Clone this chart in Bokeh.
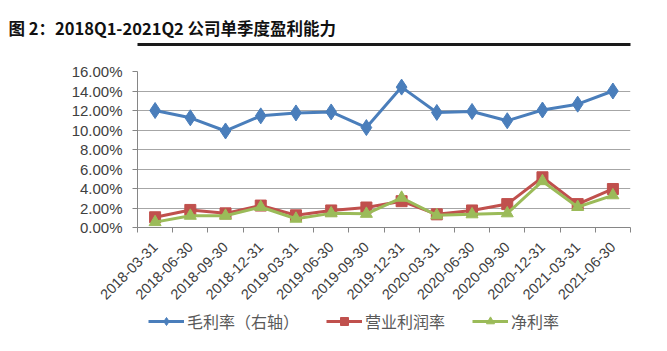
import math
import numpy as np
from bokeh.plotting import figure
from bokeh.layouts import column
from bokeh.models import (Range1d, FixedTicker, CustomJSTickFormatter, NumeralTickFormatter,
                          Legend, LegendItem, Title, LinearAxis)
from bokeh.embed import file_html
from bokeh.resources import INLINE

# ---- data ----
title_text = "图 2：2018Q1-2021Q2 公司单季度盈利能力"
dates = ["2018-03-31", "2018-06-30", "2018-09-30", "2018-12-31",
         "2019-03-31", "2019-06-30", "2019-09-30", "2019-12-31",
         "2020-03-31", "2020-06-30", "2020-09-30", "2020-12-31",
         "2021-03-31", "2021-06-30"]
gross_margin = [12.0, 11.25, 9.9, 11.45, 11.75, 11.85, 10.25, 14.4,
                11.8, 11.9, 10.95, 12.05, 12.65, 14.0]
operating_margin = [1.05, 1.8, 1.45, 2.25, 1.25, 1.75, 2.05, 2.7,
                    1.35, 1.75, 2.4, 5.15, 2.4, 3.95]
net_margin = [0.55, 1.2, 1.2, 2.1, 0.9, 1.45, 1.4, 3.05,
              1.25, 1.35, 1.45, 4.75, 2.1, 3.3]
series_names = ["毛利率（右轴）", "营业利润率", "净利率"]
y_ticks = [0.0, 0.02, 0.04, 0.06, 0.08, 0.10, 0.12, 0.14, 0.16]

BLUE = "#4a7ebb"
RED = "#c0504d"
GREEN = "#9bbb59"
CJK = "Noto Sans CJK SC"
LAT = "Liberation Sans"
W = 667
BL, BR = 137, 37


def strip(height):
    f = figure(width=W, height=height, x_range=Range1d(0, 1), y_range=Range1d(0, 1),
               x_axis_type=None, y_axis_type=None,
               toolbar_location=None, output_backend="svg", min_border=0,
               min_border_left=BL, min_border_right=BR,
               outline_line_color=None)
    f.grid.visible = False
    return f


# ---- title strip with rule ----
top = strip(47)
top.min_border_top = 41
top.min_border_bottom = 3
top.title = Title(text=title_text, align="left", offset=-129, standoff=4,
                  text_font=CJK, text_font_style="bold", text_font_size="16.5px",
                  text_color="#111111")
rule_axis = LinearAxis(ticker=FixedTicker(ticks=[]), axis_line_color="#1a1a1a",
                       axis_line_width=3, major_tick_line_color=None,
                       minor_tick_line_color=None, major_tick_out=0, major_tick_in=0,
                       major_label_standoff=0)
top.add_layout(rule_axis, "below")

# ---- main chart ----
n = len(dates)
xs = np.arange(n) + 0.5
p = figure(width=W, height=263, x_range=Range1d(0, n), y_range=Range1d(0, 0.16),
           toolbar_location=None, output_backend="svg",
           min_border_left=BL, min_border_right=BR, min_border_top=24, min_border_bottom=83,
           outline_line_color=None)
p.xgrid.visible = False
p.ygrid.grid_line_color = "#a6a6a6"
p.ygrid.grid_line_width = 1

p.xaxis.ticker = FixedTicker(ticks=list(xs), minor_ticks=list(np.arange(n + 1)))
p.xaxis.formatter = CustomJSTickFormatter(args=dict(labels=dates),
                                          code="return labels[Math.floor(tick)];")
p.xaxis.major_tick_line_color = None
p.xaxis.major_tick_out = 0
p.xaxis.major_tick_in = 0
p.xaxis.minor_tick_out = 5
p.xaxis.minor_tick_in = 0
p.xaxis.minor_tick_line_color = "#868686"
p.xaxis.major_label_orientation = math.pi / 4
p.xaxis.major_label_standoff = 12

p.yaxis.ticker = FixedTicker(ticks=y_ticks)
p.yaxis.formatter = NumeralTickFormatter(format="0.00%")
p.yaxis.major_tick_out = 5
p.yaxis.major_tick_in = 0
p.yaxis.minor_tick_line_color = None
p.yaxis.major_label_standoff = 10
p.yaxis.major_tick_line_color = "#868686"

for ax in (p.xaxis, p.yaxis):
    ax.axis_line_color = "#868686"
    ax.major_label_text_color = "#404040"
    ax.major_label_text_font = LAT
p.xaxis.major_label_text_font_size = "14.5px"
p.yaxis.major_label_text_font_size = "15px"

gm = [v / 100 for v in gross_margin]
om = [v / 100 for v in operating_margin]
nm = [v / 100 for v in net_margin]

styles = [
    dict(color=BLUE, marker="diamond", size=16),
    dict(color=RED, marker="square", size=11),
    dict(color=GREEN, marker="triangle", size=12),
]
for vals, st in zip([gm, om, nm], styles):
    p.line(xs, vals, line_color=st["color"], line_width=3)
    p.scatter(xs, vals, marker=st["marker"], size=st["size"],
              fill_color=st["color"], line_color=st["color"])

# ---- legend strip ----
bot = strip(41)
items = []
for name, st in zip(series_names, styles):
    rl = bot.line([-5, -4], [-5, -5], line_color=st["color"], line_width=3)
    rm = bot.scatter([-5], [-5], marker=st["marker"], size=st["size"],
                     fill_color=st["color"], line_color=st["color"])
    items.append(LegendItem(label=name, renderers=[rl, rm]))
legend = Legend(items=items, orientation="horizontal", location=(11, 18),
                padding=0, margin=0, spacing=27, label_standoff=3,
                glyph_width=36, glyph_height=20,
                border_line_color=None, background_fill_alpha=0,
                label_text_font=CJK, label_text_font_size="16px",
                label_text_color="#595959")
bot.add_layout(legend)

layout = column(top, p, bot, spacing=0)
open("out.html", "w").write(file_html(layout, INLINE))
